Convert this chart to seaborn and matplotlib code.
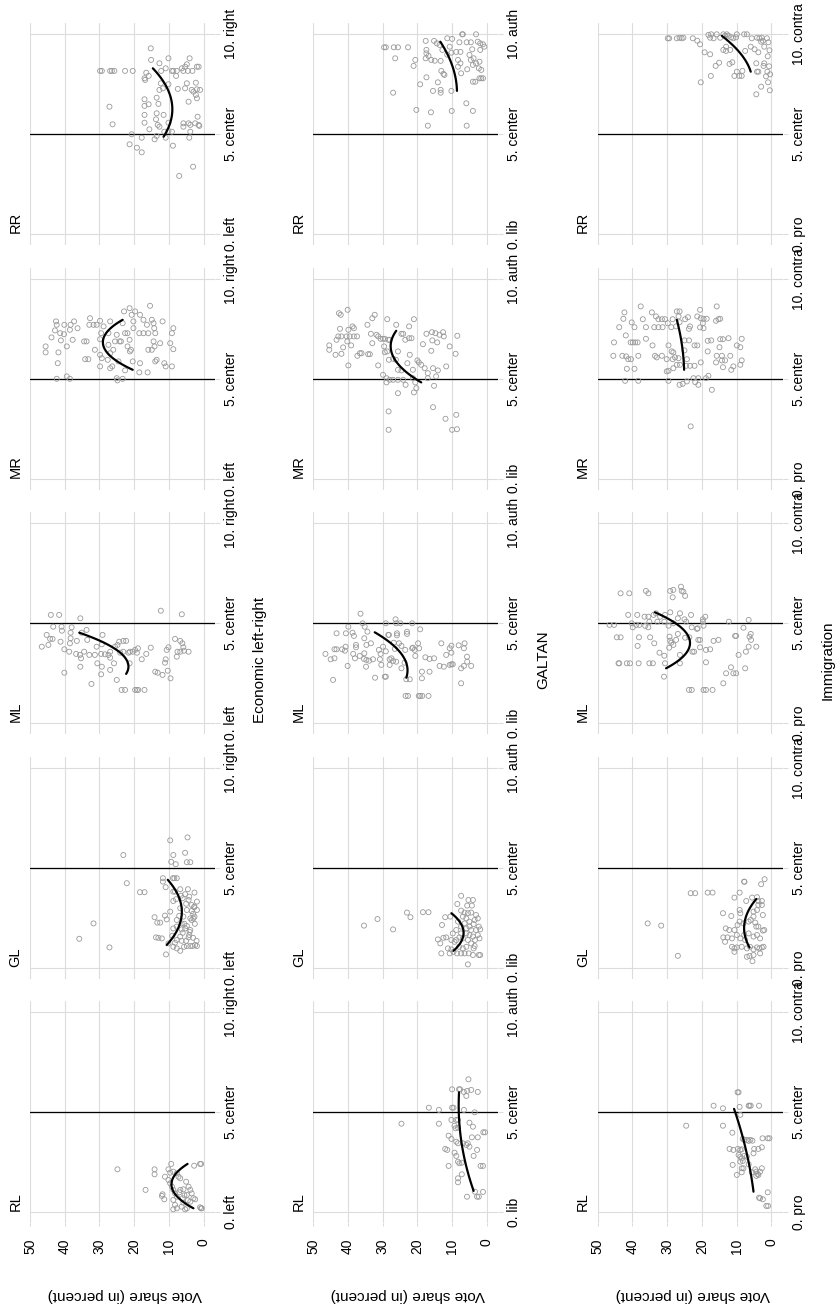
import numpy as np
import pandas as pd
import matplotlib
matplotlib.use("Agg")
import matplotlib.pyplot as plt
import seaborn as sns

sns.set_theme(style="white")
plt.rcParams['font.family'] = ['Liberation Sans', 'DejaVu Sans']

families = ["RL", "GL", "ML", "MR", "RR"]
dimensions = ["Economic left-right", "GALTAN", "Immigration"]
econ_ticks = ["0. left", "5. center", "10. right"]
galtan_ticks = ["0. lib", "5. center", "10. auth"]
imm_ticks = ["0. pro", "5. center", "10. contra"]
vote_ticks = [0, 10, 20, 30, 40, 50]
pos_ticks = [0, 5, 10]

# ---- scatter data: (vote share, position) ----
econ_RL = [(24.8,2.15),(14.1,2.15),(14.1,1.9),(16.7,1.12),(11.8,0.9),(11.3,0.65),(12.0,0.82),(9.3,2.42),(10.1,2.15),
           (9.6,1.98),(11.1,1.78),(8.7,2.03),(7.7,1.95),(7.2,1.78),(6.7,1.7),(10.1,1.62),(9.6,1.45),(9.1,1.28),(8.7,1.12),
           (8.2,0.95),(7.7,0.78),(8.7,0.62),(8.2,0.37),(7.7,0.2),(8.7,0.15),(2.7,2.33),(1.0,2.42),(0.7,2.42),(5.0,1.53),
           (4.3,1.28),(3.8,1.12),(3.4,0.95),(4.8,0.87),(2.9,0.7),(2.4,0.65),(3.8,0.53),(5.8,0.48),(6.3,0.28),(5.3,0.15),
           (4.8,0.2),(1.0,0.25),(0.7,0.2),(0.5,0.2),(5.8,1.15),(6.7,1.12),(7.0,1.0),(5.5,0.85),(6.0,0.7),(4.5,0.6)]
econ_GL = [(9.6,6.37),(4.6,6.52),(23.1,5.64),(8.7,5.64),(5.3,5.75),(9.3,5.3),(8.0,5.18),(4.8,5.28),(3.8,5.28),(22.1,4.23),
           (18.3,3.78),(17.0,3.78),(31.7,2.22),(35.8,1.45),(27.1,1.02),(10.8,0.67),(11.7,4.48),(8.8,4.48),(8.4,4.48),(7.7,4.48),
           (11.7,4.31),(10.9,4.03),(6.7,3.93),(8.7,3.81),(4.5,3.93),(4.1,3.56),(2.6,3.76),(5.3,3.68),(8.2,3.81),(8.7,3.34),
           (7.9,3.43),(6.0,3.48),(4.3,3.39),(1.9,3.31),(3.4,3.14),(2.6,3.06),(6.7,2.98),(4.8,2.89),(3.4,2.84),(9.6,2.81),
           (1.9,2.89),(2.7,3.03),(14.1,2.53),(11.1,2.61),(10.6,2.42),(12.5,2.26),(13.3,2.26),(3.8,2.47),(3.4,2.39),(2.9,2.47),
           (2.6,2.56),(5.8,2.56),(7.7,2.39),(6.3,2.22),(4.8,2.09),(3.8,1.89),(7.7,2.06),(5.3,1.97),(6.3,1.92),(8.7,1.97),
           (13.7,1.52),(13.0,1.5),(12.0,1.47),(6.7,1.56),(4.3,1.52),(4.1,1.64),(7.7,1.39),(6.3,1.35),(10.1,1.22),(8.7,1.05),
           (7.7,0.97),(6.7,0.85),(5.6,1.05),(4.8,1.09),(3.8,1.09),(3.1,1.09),(2.4,1.14),(1.9,1.09),(8.2,1.25),(5.0,3.2),
           (6.5,3.6),(3.0,2.7),(7.0,2.6),(5.5,2.2),(2.5,2.2),(4.0,1.8),(6.0,1.75),(3.0,1.5),(9.0,1.6),(5.0,1.35),(2.0,1.35)]
econ_ML = [(44.0,5.42),(41.6,5.42),(35.5,5.25),(12.3,5.63),(6.25,5.45),(43.3,4.83),(40.9,4.83),(40.8,4.63),(38.0,4.8),
           (38.3,4.53),(45.2,4.42),(44.7,3.92),(46.6,3.83),(44.2,4.22),(43.5,4.22),(41.2,4.08),(40.1,3.7),(38.7,3.58),(38.5,4.0),
           (38.3,4.25),(36.5,4.12),(36.7,3.47),(35.6,3.42),(35.3,3.25),(35.5,2.83),(34.4,3.58),(35.1,4.53),(33.7,4.67),(33.5,4.17),
           (32.9,3.42),(31.3,3.42),(30.8,3.83),(29.1,4.42),(29.3,3.95),(29.5,3.47),(28.4,3.45),(27.4,3.42),(30.6,3.0),(29.3,2.83),
           (29.5,2.45),(40.1,2.53),(32.3,1.97),(26.9,3.28),(26.9,2.67),(25.8,3.0),(25.0,2.17),(25.5,3.83),(24.8,3.92),(24.3,4.08),
           (23.1,4.12),(22.3,4.12),(26.9,3.58),(24.0,3.53),(23.1,3.58),(21.6,3.53),(21.2,3.58),(20.4,3.58),(19.7,3.67),(19.2,3.53),
           (18.9,3.75),(17.8,3.2),(16.5,3.47),(15.2,3.78),(21.3,3.0),(23.6,1.67),(22.6,1.67),(19.7,1.67),(19.2,1.67),(18.8,1.67),
           (17.0,1.67),(13.9,2.58),(13.2,2.53),(11.8,2.42),(10.9,3.2),(11.1,3.03),(10.3,2.63),(9.5,2.25),(10.6,3.67),(10.1,3.8),
           (8.2,4.22),(6.7,4.12),(7.7,3.33),(7.5,3.58),(6.7,3.58),(5.8,3.8),(5.6,3.63),(4.3,3.58),(6.1,4.0)]
econ_MR = [(45.5,6.62),(45.5,6.32),(43.8,7.07),(42.8,7.42),(42.3,7.7),(42.5,7.87),(41.8,6.32),(41.3,7.28),(41.1,6.92),
           (40.2,7.23),(40.1,7.7),(39.4,6.62),(38.5,7.45),(38.3,7.7),(37.7,6.95),(37.3,7.87),(36.3,7.53),(42.0,5.78),(39.4,5.12),
           (38.5,5.0),(42.3,5.0),(34.4,6.87),(33.7,6.87),(34.1,5.98),(33.2,5.98),(32.7,8.03),(32.9,7.7),(31.7,7.7),(30.8,7.7),
           (31.3,6.45),(29.8,7.9),(29.5,7.28),(29.8,6.98),(29.8,6.2),(29.3,6.03),(29.8,5.62),(28.8,7.62),(26.9,7.87),(27.4,7.28),
           (27.4,6.7),(26.9,6.28),(27.6,5.95),(26.3,5.62),(26.9,5.53),(26.0,6.45),(25.5,6.87),(25.0,7.2),(24.5,5.87),(25.0,5.03),
           (24.8,4.92),(23.3,5.0),(24.2,6.87),(23.8,6.87),(22.9,8.37),(23.3,7.78),(22.6,7.28),(21.9,7.28),(21.3,6.95),(21.9,6.62),
           (20.9,6.45),(22.6,5.42),(21.3,8.53),(20.7,8.2),(20.2,7.87),(20.2,7.53),(19.7,8.37),(18.3,8.2),(17.3,7.95),(18.5,7.28),
           (17.3,7.28),(16.3,7.7),(15.9,7.28),(15.4,8.65),(14.9,7.95),(14.4,7.78),(14.2,7.53),(13.9,7.28),(15.9,6.45),(14.9,6.45),
           (14.1,6.62),(14.4,6.87),(13.9,5.87),(13.5,5.95),(18.3,5.78),(18.5,5.32),(16.1,5.32),(12.5,6.78),(11.8,7.87),(10.9,5.62),
           (11.3,5.78),(9.6,6.78),(9.1,7.28),(8.7,7.53),(8.7,6.48),(9.1,5.62),(20.4,5.87),(21.2,6.37)]
econ_RR = [(29.8,8.17),(29.3,8.17),(26.9,8.17),(26.4,8.17),(25.7,8.17),(22.6,8.17),(20.4,8.17),(27.1,6.38),(26.2,5.5),
           (21.3,4.5),(20.7,5.0),(19.2,4.33),(17.8,4.1),(17.8,4.83),(15.2,9.3),(15.1,8.72),(12.7,8.55),(16.5,8.08),(15.8,7.92),
           (17.0,7.8),(16.8,7.72),(10.1,8.8),(10.9,8.3),(12.2,8.17),(9.1,8.17),(8.7,8.17),(7.7,8.17),(7.9,7.92),(6.25,8.3),
           (5.3,8.38),(4.8,8.5),(4.0,8.8),(3.2,8.17),(1.9,8.38),(1.4,8.38),(4.5,8.17),(5.8,8.17),(17.0,6.75),(17.0,6.42),
           (15.8,6.5),(17.0,5.97),(17.0,5.58),(15.6,5.25),(13.5,6.83),(13.0,6.52),(13.5,6.05),(13.7,5.75),(11.5,5.97),(12.7,5.38),
           (13.2,5.47),(12.3,7.55),(12.7,7.22),(11.7,7.3),(10.1,7.5),(7.4,7.27),(5.3,7.3),(4.8,7.55),(3.4,7.22),(2.9,7.13),
           (1.9,7.25),(1.0,7.22),(2.2,7.58),(2.2,6.97),(1.9,6.8),(4.3,6.63),(11.3,5.13),(10.1,5.17),(9.1,5.13),(5.8,5.55),
           (5.8,5.38),(4.3,5.55),(3.8,5.47),(2.4,5.55),(1.4,5.47),(1.2,5.42),(1.7,5.88),(3.8,5.13),(4.1,4.83),(14.1,4.75),
           (13.5,4.92),(10.9,4.83),(8.8,4.43),(7.0,2.92),(3.0,3.38),(10.1,5.58)]

galtan_RL = [(5.3,6.65),(10.0,6.15),(8.0,6.15),(7.7,6.15),(6.6,6.02),(5.65,6.07),(4.5,6.12),(2.6,6.02),(5.9,5.82),
             (16.7,5.23),(13.8,5.12),(10.0,5.23),(9.6,5.23),(6.6,5.12),(3.5,5.0),(24.6,4.43),(13.8,4.43),(10.2,4.62),(8.8,4.62),
             (8.3,4.62),(9.3,4.33),(9.0,4.2),(8.3,4.23),(5.0,4.48),(4.0,4.28),(1.0,4.0),(0.5,4.0),(11.0,3.83),(10.2,3.67),
             (8.8,3.53),(8.3,3.45),(6.9,3.45),(5.9,3.37),(5.5,3.45),(5.0,3.28),(4.3,3.75),(2.6,3.75),(2.8,3.12),(3.8,2.82),
             (12.0,3.17),(11.4,3.12),(9.3,2.98),(8.8,2.82),(11.0,2.32),(8.3,2.53),(7.9,2.45),(7.2,2.48),(1.8,2.32),(1.1,2.32),
             (7.2,1.9),(8.3,1.7),(8.3,1.5),(3.4,1.03),(2.8,0.78),(2.3,0.78),(1.1,1.02),(5.7,0.78)]
galtan_GL = [(35.4,2.11),(31.5,2.44),(27.0,1.92),(23.0,2.76),(22.0,2.53),(18.4,2.78),(16.8,2.78),(7.4,3.6),(5.3,3.39),
             (4.0,3.39),(8.5,3.19),(5.65,3.11),(4.3,3.11),(12.0,2.53),(10.5,2.56),(12.9,2.14),(14.1,1.42),(13.4,1.22),(12.5,1.5),
             (11.7,1.52),(13.1,0.72),(7.4,2.86),(6.4,2.76),(5.45,2.73),(4.5,2.76),(3.1,2.64),(2.6,2.47),(3.5,2.39),(5.9,2.47),
             (6.9,2.56),(8.3,2.31),(5.0,2.31),(3.8,2.19),(2.3,2.06),(1.9,1.92),(3.1,1.89),(4.5,1.89),(5.9,1.97),(7.4,2.06),
             (8.8,1.89),(9.8,1.72),(5.9,1.72),(5.0,1.64),(4.0,1.56),(2.6,1.64),(2.1,1.47),(3.4,1.39),(5.45,1.39),(6.9,1.47),
             (7.9,1.52),(8.8,1.39),(10.2,1.39),(11.2,0.97),(10.2,0.92),(9.6,0.8),(10.7,0.72),(8.6,0.72),(7.4,0.72),(6.9,0.97),
             (5.9,1.05),(4.5,1.22),(3.5,1.09),(3.8,0.97),(5.2,0.72),(4.0,0.64),(2.3,0.64),(1.9,0.64),(5.45,0.17),(6.4,0.72),
             (8.0,1.05),(9.3,1.3),(5.0,2.06),(6.4,2.22),(7.4,1.72)]
galtan_ML = [(36.4,5.48),(26.3,5.2),(44.3,2.17),(7.4,2.0),(35.8,5.0),(35.2,4.83),(39.9,4.83),(43.3,4.5),(40.6,4.5),
             (38.7,4.53),(34.4,4.58),(38.3,4.37),(35.3,4.25),(46.5,3.47),(45.0,3.2),(43.9,3.25),(43.9,3.7),(43.3,3.7),(41.7,3.7),
             (40.9,3.63),(40.7,3.83),(40.1,2.87),(38.5,3.47),(38.0,3.25),(37.7,3.92),(37.7,3.8),(36.6,3.37),(35.3,3.5),(35.4,3.22),
             (34.7,3.17),(33.9,3.13),(34.8,2.83),(34.7,3.92),(33.4,4.0),(32.8,3.2),(32.2,2.28),(31.1,3.67),(30.6,3.47),(30.4,2.92),
             (30.8,3.2),(29.4,2.33),(29.1,2.33),(29.9,3.83),(29.1,3.6),(28.4,4.42),(28.2,4.42),(29.1,5.0),(28.0,3.2),(27.5,3.25),
             (27.0,3.12),(28.0,2.92),(26.5,3.72),(26.8,4.03),(25.9,4.5),(25.9,4.4),(26.1,5.0),(24.9,5.0),(25.3,4.0),(24.6,3.87),
             (26.1,3.08),(23.0,4.58),(23.0,4.47),(23.5,3.67),(24.6,2.75),(23.7,3.03),(21.5,5.0),(21.5,3.75),(20.8,3.67),(21.3,3.78),
             (20.6,3.37),(19.8,4.0),(19.5,3.75),(19.2,4.7),(23.2,2.2),(22.2,2.2),(23.4,1.37),(22.7,1.37),(19.6,1.37),(19.2,1.37),
             (18.6,1.37),(16.8,1.37),(18.7,2.58),(18.7,2.25),(16.5,2.58),(17.7,3.3),(16.5,3.22),(15.2,3.25),(13.1,4.0),(11.7,3.42),
             (13.6,2.87),(12.4,2.83),(10.7,2.92),(10.2,2.95),(10.7,3.75),(10.2,3.88),(9.8,2.95),(8.1,3.9),(6.4,4.0),(6.6,3.75),
             (7.4,2.75),(6.6,2.87),(5.65,3.08),(5.7,3.33),(4.5,2.87),(10.2,3.53)]
galtan_MR = [(42.6,8.28),(42.1,8.2),(40.1,8.45),(42.3,7.5),(39.9,7.45),(38.7,7.62),(38.3,7.53),(42.8,7.12),(41.9,7.12),
             (40.4,7.12),(39.5,7.12),(38.3,7.12),(37.4,7.12),(43.3,6.95),(40.2,6.87),(39.1,6.67),(41.4,6.57),(45.4,6.67),(45.4,6.45),
             (43.6,6.2),(41.9,6.25),(39.9,5.67),(37.3,6.15),(36.6,6.28),(36.1,6.28),(34.2,6.23),(33.7,6.23),(34.4,7.7),(33.0,8.03),
             (32.3,8.2),(33.4,7.25),(31.8,7.2),(31.3,7.12),(30.6,7.0),(33.0,6.78),(31.3,5.67),(28.7,7.98),(29.9,7.0),(29.4,7.0),
             (28.4,6.95),(28.0,6.95),(29.6,6.62),(29.4,6.33),(28.7,6.37),(29.9,5.2),(28.9,4.82),(28.0,4.95),(28.2,5.95),(27.0,4.95),
             (25.6,4.28),(28.3,3.37),(28.3,2.45),(26.1,7.7),(24.6,7.25),(24.1,7.25),(23.5,6.95),(22.4,7.62),(22.4,7.03),(21.7,7.03),
             (21.0,7.98),(25.6,6.37),(27.0,6.0),(26.2,5.95),(25.6,5.45),(24.6,5.42),(24.1,4.95),(23.4,4.7),(25.6,4.95),(22.9,5.78),
             (22.2,6.2),(21.3,5.45),(20.6,4.82),(20.0,5.92),(19.6,5.82),(18.9,5.7),(20.3,4.53),(21.0,4.32),(18.4,6.73),(17.4,7.25),
             (15.8,7.33),(15.7,6.92),(16.0,6.4),(14.3,6.82),(14.8,7.28),(13.6,7.2),(12.6,7.33),(12.4,7.12),(10.7,6.62),(8.5,7.15),
             (9.0,6.25),(17.9,5.53),(17.0,5.28),(15.5,5.53),(14.1,5.42),(14.6,5.12),(11.7,5.62),(15.2,4.65),(17.0,5.03),(28.9,5.03),
             (21.3,5.03),(15.5,3.58),(11.9,3.0),(8.8,3.2),(10.0,2.45),(8.6,2.48)]
galtan_RR = [(29.6,9.35),(29.1,9.35),(26.8,9.35),(25.6,9.35),(22.7,9.35),(26.4,8.8),(27.0,7.08),(20.6,8.72),(21.1,8.42),
             (19.2,7.5),(20.3,6.22),(16.1,6.1),(17.0,5.43),(15.5,7.17),(17.4,7.85),(14.1,7.6),(13.3,7.22),(13.3,7.08),(10.2,7.17),
             (10.1,6.17),(5.9,6.55),(5.8,5.43),(4.0,6.17),(17.6,9.67),(17.4,9.22),(17.4,9.05),(17.6,8.8),(16.8,8.92),(16.0,8.72),
             (15.2,9.67),(15.0,8.68),(14.4,9.55),(13.6,9.47),(13.3,8.67),(13.1,8.17),(12.5,8.02),(12.2,7.97),(12.8,9.22),(11.4,9.8),
             (10.0,9.77),(10.7,9.38),(11.4,8.98),(10.2,9.08),(8.8,9.12),(7.6,9.12),(8.3,8.72),(7.6,8.55),(8.3,8.38),(7.4,8.05),
             (7.9,9.6),(7.1,10.0),(6.9,10.0),(5.8,9.6),(4.6,9.6),(4.2,9.25),(5.0,8.97),(4.6,8.72),(3.8,8.8),(3.1,10.0),(2.6,9.63),
             (1.9,9.55),(1.9,9.22),(1.1,9.5),(0.7,9.38),(2.1,8.63),(3.1,8.55),(2.3,8.3),(1.6,8.22),(4.0,8.47),(5.65,8.25),(4.0,7.63),
             (3.3,7.63),(2.1,7.8),(1.6,7.8),(1.1,7.8)]

imm_RL = [(9.7,6.0),(9.4,6.0),(16.6,5.33),(13.9,5.2),(9.1,5.27),(6.5,5.33),(6.25,5.33),(5.9,5.33),(3.5,5.33),(8.9,4.87),
          (24.5,4.33),(13.9,4.33),(11.2,3.98),(8.2,3.67),(7.8,3.62),(7.0,3.62),(6.5,3.57),(6.0,3.62),(5.4,3.58),(2.5,3.7),
          (1.0,3.7),(0.5,3.7),(12.0,3.17),(10.9,3.12),(9.6,3.17),(8.9,3.12),(8.5,3.15),(4.9,3.17),(3.7,3.17),(2.7,3.25),
          (5.1,2.95),(9.4,2.87),(8.9,2.78),(8.5,2.7),(7.8,2.82),(7.0,2.78),(6.5,2.4),(8.2,2.57),(8.9,2.53),(11.1,2.37),
          (8.5,2.2),(8.0,2.2),(8.5,2.0),(9.9,1.87),(5.6,2.0),(4.6,2.15),(4.3,2.03),(3.7,1.87),(3.2,2.03),(2.7,2.2),(3.9,1.92),
          (4.3,1.82),(1.0,1.0),(3.5,0.73),(3.2,0.7),(2.4,0.65),(1.4,0.32),(0.9,0.32)]
imm_GL = [(35.6,2.22),(31.7,2.11),(26.9,0.6),(23.2,3.73),(21.9,3.73),(18.3,3.76),(16.9,3.76),(7.8,4.31),(7.7,4.3),
          (2.9,4.18),(1.9,4.43),(9.1,3.76),(10.6,3.51),(7.2,3.34),(5.5,3.51),(4.1,3.53),(3.7,3.34),(2.7,3.34),(3.7,3.14),
          (2.7,3.14),(13.9,2.73),(11.5,2.59),(8.9,2.73),(9.1,2.89),(5.1,2.81),(4.1,2.89),(2.4,2.64),(5.1,2.56),(13.1,1.97),
          (12.1,1.89),(10.6,1.89),(9.7,2.14),(9.1,2.31),(8.0,2.22),(6.5,2.31),(5.9,2.39),(4.6,2.26),(3.7,2.06),(2.4,1.86),
          (2.0,1.89),(13.8,1.52),(12.6,1.52),(13.3,1.3),(11.3,1.47),(9.9,1.64),(8.9,1.47),(7.8,1.64),(6.5,1.72),(5.1,1.56),
          (4.1,1.64),(3.2,1.47),(7.5,1.39),(11.3,1.05),(10.6,0.97),(9.9,1.02),(10.6,0.8),(8.5,1.05),(7.0,0.97),(6.1,1.05),
          (5.1,0.92),(4.1,1.02),(3.4,0.97),(2.7,1.02),(2.2,1.05),(6.25,0.59),(5.1,0.64),(5.4,0.33),(3.2,0.72),(7.0,0.55),(4.3,2.06)]
imm_ML = [(43.4,6.5),(40.9,6.5),(36.1,6.62),(35.4,6.5),(29.1,6.62),(28.2,6.67),(28.4,6.3),(26.0,6.83),(25.8,6.62),
          (25.3,6.58),(24.8,6.37),(41.2,5.42),(38.6,5.42),(36.5,5.33),(35.4,5.33),(33.9,5.42),(33.2,5.5),(32.0,5.33),(30.6,5.42),
          (29.1,5.55),(26.3,5.5),(23.1,5.42),(26.9,5.25),(25.0,5.2),(24.5,5.08),(19.7,5.2),(19.0,5.33),(19.7,5.08),(46.6,4.92),
          (45.3,4.92),(40.2,5.0),(39.9,4.8),(38.9,4.92),(38.0,4.92),(36.3,4.87),(35.4,4.8),(35.1,5.08),(32.8,5.08),(30.8,5.08),
          (29.6,4.88),(28.2,5.0),(22.9,4.8),(21.4,4.72),(21.2,4.75),(19.5,4.88),(12.2,5.08),(6.5,5.17),(44.5,4.3),(43.4,4.3),
          (38.1,4.3),(34.9,4.3),(29.3,4.33),(29.1,4.13),(28.8,4.03),(27.4,4.17),(26.9,4.47),(24.8,4.28),(23.6,4.3),(21.0,4.17),
          (20.5,4.17),(16.6,4.12),(15.2,4.17),(38.5,3.87),(33.7,4.0),(29.4,3.78),(28.2,3.92),(32.2,3.53),(30.8,3.38),(26.3,3.42),
          (22.7,3.58),(22.2,3.58),(20.5,3.8),(18.8,3.67),(17.6,3.7),(18.8,3.05),(44.0,3.0),(43.8,3.0),(41.6,3.0),(40.7,3.0),
          (38.2,3.0),(35.1,3.0),(34.1,3.0),(30.6,3.0),(26.3,3.0),(30.9,2.33),(23.7,1.67),(22.9,1.67),(19.5,1.67),(18.8,1.67),
          (16.9,1.67),(13.8,2.0),(13.0,2.5),(11.6,2.8),(10.9,2.5),(10.1,2.5),(10.4,4.37),(10.1,4.37),(9.4,3.42),(8.0,4.78),
          (7.5,2.75),(7.3,3.58),(6.5,3.83),(6.25,4.33),(5.9,4.47),(5.8,4.17),(4.3,3.83)]
imm_MR = [(37.6,8.62),(42.3,8.32),(42.6,8.0),(43.8,7.58),(40.2,7.82),(39.4,7.58),(37.0,7.98),(34.4,8.32),(33.2,8.12),
          (32.5,7.98),(31.5,7.98),(30.6,7.98),(36.1,7.58),(33.7,7.58),(32.5,7.58),(31.3,7.58),(29.8,7.78),(41.9,7.17),(45.3,6.82),
          (40.5,6.82),(39.9,6.82),(39.2,6.82),(38.5,6.82),(36.1,7.0),(34.2,6.67),(45.5,6.15),(42.9,6.15),(41.8,6.12),(41.2,5.98),
          (40.4,5.98),(41.6,5.5),(39.4,5.5),(38.3,6.15),(42.1,4.9),(38.3,4.9),(33.5,6.15),(33.0,6.07),(31.5,6.15),(30.1,5.98),
          (29.6,6.67),(28.7,6.37),(28.2,6.32),(28.4,5.98),(27.7,6.07),(26.7,6.03),(30.1,5.37),(29.6,5.4),(28.2,5.53),(27.2,5.7),
          (26.3,5.7),(24.3,5.98),(28.4,7.98),(27.2,8.37),(26.4,8.37),(26.7,8.12),(28.8,7.58),(27.4,7.62),(26.4,7.83),(24.8,7.98),
          (24.0,8.08),(23.7,7.5),(23.4,7.62),(22.1,6.67),(21.3,6.67),(23.7,6.92),(25.0,6.92),(25.0,6.42),(23.4,5.65),(22.1,5.65),
          (20.3,5.82),(20.5,8.45),(21.3,8.12),(20.3,8.03),(19.5,8.0),(19.7,7.78),(20.5,7.57),(19.5,7.53),(18.6,8.0),(18.3,6.9),
          (18.3,6.37),(17.3,6.92),(15.7,8.62),(15.9,7.9),(15.2,7.98),(14.7,8.0),(14.7,6.98),(13.9,6.98),(12.3,7.03),(15.9,5.82),
          (15.7,6.15),(14.2,6.15),(14.2,5.92),(13.3,5.92),(13.9,5.58),(11.8,6.15),(11.5,5.45),(10.9,5.62),(9.9,6.67),(8.9,6.58),
          (8.5,7.0),(8.5,5.92),(8.9,5.7),(14.9,6.58),(26.4,4.7),(25.5,4.75),(24.3,4.87),(24.5,5.65),(22.4,5.03),(21.9,4.83),
          (21.0,5.03),(21.0,4.7),(18.8,5.03),(18.1,5.15),(17.1,4.45),(23.2,2.62),(29.6,4.9)]
imm_RR = [(29.8,9.8),(29.4,9.8),(27.2,9.8),(26.4,9.83),(25.8,9.8),(25.3,9.83),(22.6,9.8),(21.3,9.68),(20.5,9.5),(19.2,9.1),
          (17.6,9.0),(20.3,7.6),(17.4,7.92),(16.0,8.42),(15.0,8.58),(18.1,9.97),(17.6,9.83),(17.3,10.0),(16.6,9.8),(15.7,10.0),
          (14.7,9.83),(13.8,10.0),(13.3,9.93),(12.8,10.0),(12.3,9.93),(11.5,9.85),(10.9,9.8),(9.9,10.0),(10.1,9.85),(13.8,9.22),
          (13.0,9.38),(11.8,9.22),(13.0,9.17),(12.0,8.52),(11.2,8.6),(10.6,7.92),(9.9,8.13),(9.2,7.92),(8.5,7.92),(8.3,8.17),
          (7.5,9.17),(7.8,10.0),(7.0,10.0),(5.6,9.8),(5.9,9.38),(4.8,9.25),(3.7,9.1),(4.1,9.83),(3.4,9.8),(2.7,9.83),(2.4,9.68),
          (2.0,9.38),(2.9,9.63),(1.25,9.8),(4.3,8.55),(4.1,8.13),(3.7,8.13),(2.0,8.55),(2.2,8.42),(1.1,8.13),(2.9,7.38),(4.3,7.0),
          (0.8,9.6),(0.5,9.2),(1.0,8.9),(0.6,8.4),(0.3,8.0),(0.9,7.6),(0.4,7.2),(1.5,7.9)]

# ---- quadratic fit lines: (position, vote share) ----
econ_RL_fit = [(0.2, 2.9), (1.12, 8.9), (2.42, 4.6)]
econ_GL_fit = [(1.14, 10.6), (2.73, 6.25), (4.4, 10.3)]
econ_ML_fit = [(2.47, 22.3), (3.53, 24.0), (4.53, 35.8)]
econ_MR_fit = [(5.45, 20.4), (6.62, 28.8), (7.95, 23.3)]
econ_RR_fit = [(4.88, 11.5), (6.55, 9.1), (8.3, 14.6)]
galtan_RL_fit = [(1.07, 3.8), (3.62, 7.4), (6.0, 8.0)]
galtan_GL_fit = [(0.85, 9.6), (1.72, 6.7), (2.73, 10.2)]
galtan_ML_fit = [(2.28, 23.2), (3.83, 26.5), (4.55, 32.3)]
galtan_MR_fit = [(4.82, 18.9), (6.62, 27.7), (7.4, 26.1)]
galtan_RR_fit = [(7.17, 8.6), (8.55, 10.2), (9.63, 13.4)]
imm_RL_fit = [(1.03, 5.1), (3.28, 7.5), (5.17, 10.7)]
imm_GL_fit = [(1.02, 6.25), (2.06, 7.8), (3.44, 4.3)]
imm_ML_fit = [(2.75, 30.3), (4.0, 23.4), (5.55, 33.5)]
imm_MR_fit = [(5.45, 25.1), (6.78, 25.8), (7.95, 27.2)]
imm_RR_fit = [(8.13, 5.9), (9.05, 8.9), (9.92, 14.2)]

scatter_sets = {
    "Economic left-right": [econ_RL, econ_GL, econ_ML, econ_MR, econ_RR],
    "GALTAN": [galtan_RL, galtan_GL, galtan_ML, galtan_MR, galtan_RR],
    "Immigration": [imm_RL, imm_GL, imm_ML, imm_MR, imm_RR],
}
fit_sets = {
    "Economic left-right": [econ_RL_fit, econ_GL_fit, econ_ML_fit, econ_MR_fit, econ_RR_fit],
    "GALTAN": [galtan_RL_fit, galtan_GL_fit, galtan_ML_fit, galtan_MR_fit, galtan_RR_fit],
    "Immigration": [imm_RL_fit, imm_GL_fit, imm_ML_fit, imm_MR_fit, imm_RR_fit],
}
tick_sets = {"Economic left-right": econ_ticks, "GALTAN": galtan_ticks, "Immigration": imm_ticks}

# ---- layout (pixels) ----
W, H = 835, 1309
fig = plt.figure(figsize=(W / 100, H / 100), dpi=100)
fig.patch.set_facecolor("white")
row_x50 = [30.0, 313.3, 597.7]
px_vote = 3.47
vmin = -3.37
pos0_y = [1212.3 - 244.5 * k for k in range(5)]
px_pos = 20.0
pmin, pmax = -0.55, 10.55
grid_c = "#dcdcdc"
pt = 72 / 100.0  # points per pixel

for r, dim in enumerate(dimensions):
    x50 = row_x50[r]
    width = (50 - vmin) * px_vote
    for k, fam in enumerate(families):
        bottom_px = pos0_y[k] - pmin * px_pos
        height = (pmax - pmin) * px_pos
        ax = fig.add_axes([x50 / W, (H - bottom_px) / H, width / W, height / H])
        ax.set_facecolor("none")
        ax.set_xlim(50, vmin)
        ax.set_ylim(pmin, pmax)
        for v in vote_ticks:
            ax.axvline(v, color=grid_c, lw=1.1 * pt, zorder=0)
        for p in (0, 10):
            ax.axhline(p, color=grid_c, lw=1.1 * pt, zorder=0)
        ax.axhline(5, color="black", lw=1.3 * pt, zorder=1)

        df = pd.DataFrame(scatter_sets[dim][k], columns=["vote", "pos"])
        sns.scatterplot(data=df, x="vote", y="pos", ax=ax, marker="o", s=13,
                        facecolors="none", edgecolor="#999999", linewidth=0.6,
                        zorder=2, legend=False)

        fit = np.array(fit_sets[dim][k])
        coef = np.polyfit(fit[:, 0], fit[:, 1], 2)
        pgrid = np.linspace(fit[:, 0].min(), fit[:, 0].max(), 60)
        fitdf = pd.DataFrame({"pos": pgrid, "vote": np.polyval(coef, pgrid)})
        sns.lineplot(data=fitdf, x="vote", y="pos", ax=ax, sort=False, estimator=None,
                     color="black", lw=2.2 * pt, zorder=3)

        ax.set_xlabel("")
        ax.set_ylabel("")
        for s in ax.spines.values():
            s.set_visible(False)
        ax.grid(False)

        ax.set_yticks(pos_ticks)
        ax.set_yticklabels(tick_sets[dim])
        ax.tick_params(axis="y", left=False, labelleft=False, right=True, labelright=True,
                       length=5 * pt, width=1.1 * pt, color=grid_c, pad=4 * pt,
                       labelsize=10, labelcolor="black", labelrotation=90)
        for lab in ax.get_yticklabels():
            lab.set_va("center")
            lab.set_ha("left")

        ax.set_xticks(vote_ticks)
        if k == 0:
            ax.set_xticklabels([str(v) for v in vote_ticks])
            ax.tick_params(axis="x", bottom=True, labelbottom=True, length=3 * pt,
                           width=1.1 * pt, color=grid_c, pad=12 * pt, labelsize=10,
                           labelcolor="black", labelrotation=90)
        else:
            ax.tick_params(axis="x", bottom=False, labelbottom=False)

        # panel title
        fig.text((x50 - 14.5) / W, 1 - (pos0_y[k] - 1) / H, fam, rotation=90,
                 ha="center", va="bottom", fontsize=10.5, color="black")

    # y-axis title (upside down) and row axis title
    fig.text((x50 + 95) / W, 1 - 1295 / H, "Vote share (in percent)", rotation=180,
             ha="center", va="center", fontsize=11, color="black")
    fig.text((x50 + width + 45) / W, 1 - 660 / H, dim, rotation=90,
             ha="center", va="center", fontsize=11, color="black")

fig.savefig("out.png", dpi=100, facecolor="white")
